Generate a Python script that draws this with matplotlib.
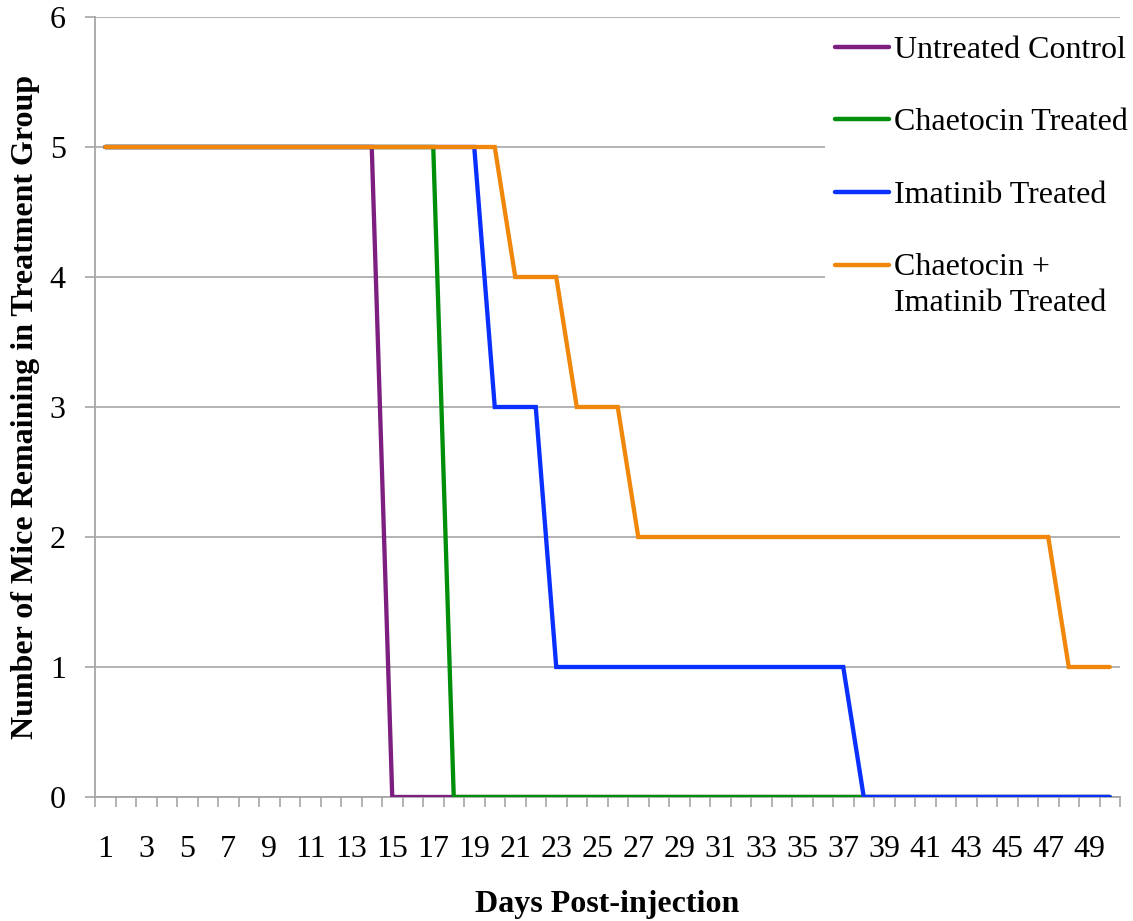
import matplotlib
matplotlib.use("Agg")
import matplotlib.pyplot as plt
from matplotlib.legend_handler import HandlerLine2D
from matplotlib.ticker import FixedLocator

days = list(range(1, 51))

untreated = [5] * 14 + [0] * 36
chaetocin = [5] * 17 + [0] * 33
imatinib = [5] * 19 + [3] * 3 + [1] * 15 + [0] * 13
combo = [5] * 20 + [4] * 3 + [3] * 3 + [2] * 21 + [1] * 3

series = [
    ("Untreated Control", untreated, "#7D1F80"),
    ("Chaetocin Treated", chaetocin, "#008F0A"),
    ("Imatinib Treated", imatinib, "#0A30FF"),
    ("Chaetocin +\nImatinib Treated", combo, "#F0870A"),
]

x_labels = [str(d) for d in range(1, 50, 2)]
y_ticks = [0, 1, 2, 3, 4, 5, 6]

plt.rcParams["font.family"] = ["Liberation Serif", "DejaVu Serif"]
FS = 23
GRID = "#A6A6A6"

fig = plt.figure(figsize=(11.33, 9.21), dpi=100)
ax = fig.add_axes([95 / 1133, 124 / 921, 1025 / 1133, 780 / 921])

lines = []
for label, vals, color in series:
    ln, = ax.plot(days, vals, color=color, lw=3.1, solid_joinstyle="miter",
                  solid_capstyle="round", label=label, zorder=3)
    lines.append(ln)

ax.set_xlim(0.5, 50.5)
ax.set_ylim(0, 6)

ax.set_xticks(list(range(1, 50, 2)))
ax.set_xticklabels(x_labels)
ax.xaxis.set_minor_locator(FixedLocator([d + 0.5 for d in range(0, 51)]))
ax.tick_params(axis="x", which="major", length=0, pad=27, labelsize=FS)
ax.tick_params(axis="x", which="minor", length=7, width=1.2, color=GRID)

ax.set_yticks(y_ticks)
ax.tick_params(axis="y", which="major", length=7, width=1.2, color=GRID,
               pad=14, labelsize=FS)

ax.yaxis.grid(True, color=GRID, lw=1.2, zorder=0)
ax.set_axisbelow(True)
for side in ("top", "right"):
    ax.spines[side].set_visible(False)
for side in ("left", "bottom"):
    ax.spines[side].set_color(GRID)
    ax.spines[side].set_linewidth(1.3)

ax.set_xlabel("Days Post-injection", fontsize=23, fontweight="bold", labelpad=19)
ax.set_ylabel("Number of Mice Remaining in Treatment Group", fontsize=23,
              fontweight="bold", labelpad=7)


class TopAlignedLine(HandlerLine2D):
    """Place the legend line beside the first text row of a wrapped label."""

    def __init__(self, shift, **kw):
        super().__init__(**kw)
        self.shift = shift

    def create_artists(self, legend, orig_handle, xdescent, ydescent,
                       width, height, fontsize, trans):
        arts = super().create_artists(legend, orig_handle, xdescent, ydescent,
                                      width, height, fontsize, trans)
        for a in arts:
            a.set_ydata([y + self.shift for y in a.get_ydata()])
        return arts


leg = ax.legend(handles=lines, loc="upper left",
                bbox_to_anchor=(809 / 1133, 1 - 10 / 921),
                bbox_transform=fig.transFigure,
                fontsize=FS, frameon=True, facecolor="white", edgecolor="none",
                framealpha=1, fancybox=False, borderpad=0.3,
                labelspacing=1.35, handlelength=1.7, handletextpad=0.15,
                handler_map={lines[3]: TopAlignedLine(shift=14.5)})
leg.set_zorder(5)
for t in leg.get_texts():
    t.set_linespacing(1.31)
for h in leg.get_lines():
    h.set_linewidth(3.2)

fig.savefig("out.png", dpi=100)
